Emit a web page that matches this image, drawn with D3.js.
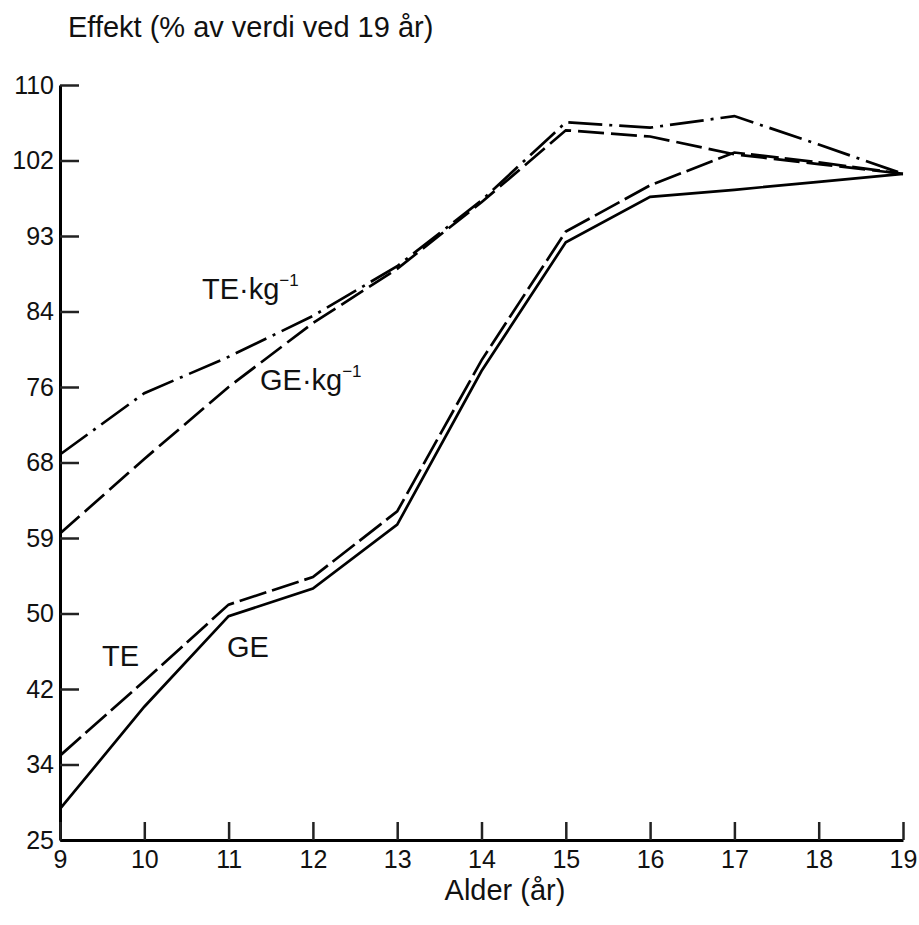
<!DOCTYPE html>
<html>
<head>
<meta charset="utf-8">
<script src="https://cdn.jsdelivr.net/npm/d3@7"></script>
<style>
  html, body { margin: 0; padding: 0; background: #fff; }
  svg { display: block; font-family: "Liberation Sans", Arial, sans-serif; }
</style>
</head>
<body>
<svg id="chart" width="919" height="925"></svg>
<script>
// ---- data ----
const ages = [9, 10, 11, 12, 13, 14, 15, 16, 17, 18, 19];
const teKg = [68.4, 75.3, 79.4, 84.0, 89.6, 97.0, 105.8, 105.2, 106.5, 103.3, 100];
const geKg = [59.5, 67.9, 76.0, 83.2, 89.3, 96.8, 104.9, 104.2, 102.2, 101.1, 100];
const te   = [34.5, 42.9, 51.5, 54.6, 62.0, 79.0, 93.5, 98.7, 102.4, 101.3, 100];
const ge   = [28.5, 40.0, 50.2, 53.3, 60.5, 77.8, 92.3, 97.4, 98.2, 99.1, 100];
const yTickValues = [25, 33.5, 42, 50.5, 59, 67.5, 76, 84.5, 93, 101.5, 110];
const yTickLabels = ["25", "34", "42", "50", "59", "68", "76", "84", "93", "102", "110"];
const xTickValues = [9, 10, 11, 12, 13, 14, 15, 16, 17, 18, 19];
const title = "Effekt (% av verdi ved 19 år)";
const xTitle = "Alder (år)";

const svg = d3.select("#chart");
const x = d3.scaleLinear().domain([9, 19]).range([60, 903]);
const y = d3.scaleLinear().domain([25, 110]).range([840, 85]);

// axes
const yAxis = d3.axisLeft(y)
  .tickValues(yTickValues)
  .tickFormat((d, i) => yTickLabels[i])
  .tickSizeInner(-19).tickSizeOuter(0).tickPadding(6);
const gy = svg.append("g").attr("transform", `translate(${x(9)},0)`).call(yAxis);
gy.select(".domain").attr("stroke", "#000").attr("stroke-width", 3);
gy.selectAll(".tick line").attr("stroke", "#222").attr("stroke-width", 2.5);
gy.selectAll(".tick text").attr("font-size", 25).attr("fill", "#111")
  .attr("font-family", "Liberation Sans, Arial, sans-serif");

const xAxis = d3.axisBottom(x)
  .tickValues(xTickValues)
  .tickFormat(d3.format("d"))
  .tickSizeInner(-18).tickSizeOuter(0).tickPadding(10);
const gx = svg.append("g").attr("transform", `translate(0,${y(25)})`).call(xAxis);
gx.select(".domain").attr("stroke", "#000").attr("stroke-width", 3);
gx.selectAll(".tick line").attr("stroke", "#222").attr("stroke-width", 2.5);
gx.selectAll(".tick text").attr("font-size", 25).attr("fill", "#111")
  .attr("font-family", "Liberation Sans, Arial, sans-serif");

// lines
const series = [
  { vals: teKg, dash: "34,7,3,7" },
  { vals: geKg, dash: "26,7" },
  { vals: te,   dash: "28,6" },
  { vals: ge,   dash: null }
];
const line = d3.line().x(d => x(d[0])).y(d => y(d[1]));
series.forEach(s => {
  svg.append("path")
    .datum(ages.map((a, i) => [a, s.vals[i]]))
    .attr("d", line)
    .attr("fill", "none")
    .attr("stroke", "#000")
    .attr("stroke-width", 2.7)
    .attr("stroke-linejoin", "miter")
    .attr("stroke-dasharray", s.dash);
});

// titles
svg.append("text").attr("x", 68).attr("y", 37)
  .attr("font-size", 29).attr("fill", "#111").text(title);
svg.append("text").attr("x", 505).attr("y", 900).attr("text-anchor", "middle")
  .attr("font-size", 29).attr("fill", "#111").text(xTitle);

// series labels
function label(xp, yp, main, sup) {
  const t = svg.append("text").attr("x", xp).attr("y", yp)
    .attr("font-size", 29).attr("fill", "#111").text(main);
  if (sup) {
    t.append("tspan").attr("font-size", 17).attr("dy", -13).text(sup);
  }
}
label(202, 299, "TE·kg", "−1");
label(260, 390, "GE·kg", "−1");
label(102, 666, "TE", null);
label(227, 657, "GE", null);
</script>
</body>
</html>
